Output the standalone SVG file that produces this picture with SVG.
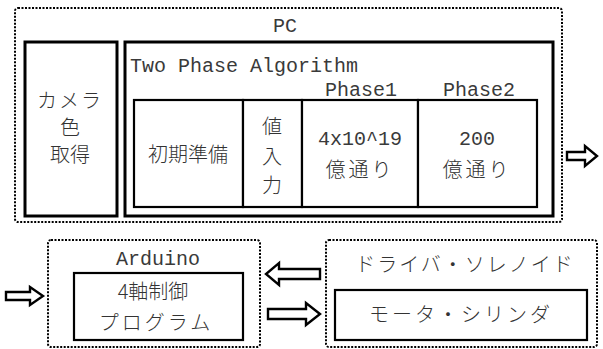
<svg xmlns="http://www.w3.org/2000/svg" width="603" height="349" viewBox="0 0 603 349">
<style>
.dot{fill:none;stroke:#000;stroke-width:2;stroke-dasharray:2 1.5}
.thick{fill:#fff;stroke:#000;stroke-width:3}
.thin{fill:#fff;stroke:#000;stroke-width:2.2}
.arr{fill:#fff;stroke:#000;stroke-width:2.4;stroke-linejoin:miter}
.en{font-family:"Liberation Mono",monospace;font-size:20px;fill:#3a3a3a}
.jp{font-family:"Noto Sans CJK JP","Noto Sans CJK SC",sans-serif;font-size:20px;fill:#333;font-weight:300}
</style>
<rect width="603" height="349" fill="#fff"/>
<g id="pc">
<rect class="dot" x="15" y="8" width="547" height="214" rx="3"/>
<text class="en" x="285" y="32" text-anchor="middle">PC</text>
</g>
<g id="camera">
<rect class="thick" x="25" y="42" width="92" height="174"/>
<text class="jp" x="70" y="108" text-anchor="middle" letter-spacing="2">カメラ</text>
<text class="jp" x="70" y="135" text-anchor="middle">色</text>
<text class="jp" x="70" y="162" text-anchor="middle">取得</text>
</g>
<g id="algorithm">
<rect class="thick" x="125" y="42" width="428" height="174"/>
<text class="en" x="130" y="72">Two Phase Algorithm</text>
<text class="en" x="361" y="96" text-anchor="middle">Phase1</text>
<text class="en" x="479" y="96" text-anchor="middle">Phase2</text>
</g>
<g id="init">
<rect class="thin" x="134" y="100" width="109" height="107"/>
<text class="jp" x="188" y="162" text-anchor="middle">初期準備</text>
</g>
<g id="input">
<rect class="thin" x="243" y="100" width="59" height="107"/>
<text class="jp" x="272" y="134" text-anchor="middle">値</text>
<text class="jp" x="272" y="164" text-anchor="middle">入</text>
<text class="jp" x="272" y="193" text-anchor="middle">力</text>
</g>
<g id="phase1">
<rect class="thin" x="302" y="100" width="116" height="107"/>
<text class="en" x="360" y="145" text-anchor="middle" font-size="22">4x10^19</text>
<text class="jp" x="360" y="177" text-anchor="middle" font-size="22" letter-spacing="3">億通り</text>
</g>
<g id="phase2">
<rect class="thin" x="418" y="100" width="119" height="107"/>
<text class="en" x="477" y="145" text-anchor="middle" font-size="22">200</text>
<text class="jp" x="477" y="177" text-anchor="middle" font-size="22" letter-spacing="3">億通り</text>
</g>
<g id="arduino">
<rect class="dot" x="48" y="240" width="212" height="107" rx="3"/>
<text class="en" x="158" y="265" text-anchor="middle">Arduino</text>
<rect class="thin" x="74" y="273" width="169" height="67"/>
<text class="jp" x="153" y="299" text-anchor="middle" font-size="21">4軸制御</text>
<text class="jp" x="156" y="330" text-anchor="middle" font-size="21" letter-spacing="3">プログラム</text>
</g>
<g id="driver">
<rect class="dot" x="326" y="240" width="271" height="107" rx="3"/>
<text class="jp" x="465" y="272" text-anchor="middle" font-size="21" letter-spacing="2">ドライバ・ソレノイド</text>
<rect class="thin" x="335" y="290" width="252" height="50"/>
<text class="jp" x="461" y="322" text-anchor="middle" font-size="21" letter-spacing="3">モータ・シリンダ</text>
</g>
<g id="connectors">
<polygon class="arr" points="567,152 585,152 585,146 597,156 585,166 585,160 567,160"/>
<polygon class="arr" points="320,269 279,269 279,263 266,274 279,285 279,279 320,279"/>
<polygon class="arr" points="268,309 306,309 306,303 320,314 306,325 306,319 268,319"/>
<polygon class="arr" points="6,292 30,292 30,287 43,296 30,305 30,300 6,300"/>
</g>
</svg>
